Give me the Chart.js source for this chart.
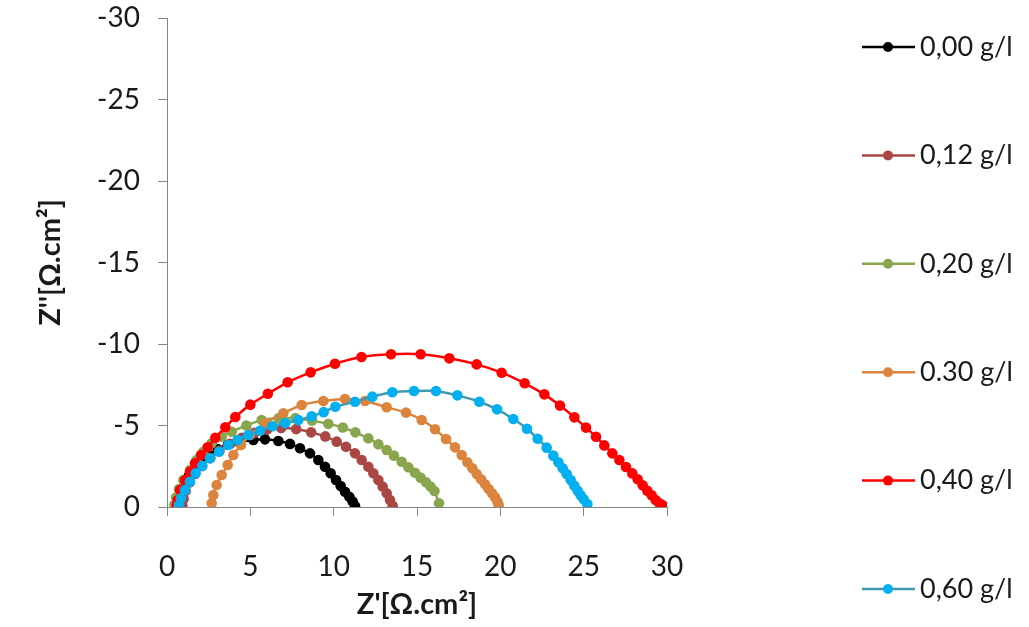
<!DOCTYPE html>
<html>
<head>
<meta charset="utf-8">
<script src="https://cdn.jsdelivr.net/npm/chart.js@4.4.1/dist/chart.umd.min.js"></script>
<style>
  body { margin: 0; background: #fff; }
  #wrap { width: 1029px; height: 627px; }
</style>
</head>
<body>
<div id="wrap"><canvas id="chart" width="1029" height="627"></canvas></div>
<script>
// Series labels
const seriesLabels = ["0,00 g/l", "0,12 g/l", "0,20 g/l", "0.30 g/l", "0,40 g/l", "0,60 g/l"];

// Z' (real part) and Z'' (imaginary part) for each concentration
const zRe000 = [0.75, 0.8, 0.9, 1.05, 1.3, 1.6, 2.0, 2.5, 3.05, 3.65, 4.3, 5.18, 5.88, 6.68, 7.38, 7.98, 8.58, 9.08, 9.48, 9.82, 10.14, 10.42, 10.68, 10.94, 11.14, 11.28];
const zIm000 = [-0.1, -0.45, -0.9, -1.4, -1.9, -2.35, -2.8, -3.2, -3.55, -3.82, -4.0, -4.11, -4.15, -4.05, -3.87, -3.6, -3.29, -2.88, -2.47, -2.07, -1.66, -1.29, -0.94, -0.63, -0.33, -0.06];

const zRe012 = [0.92, 1.0, 1.12, 1.35, 1.68, 2.1, 2.6, 3.15, 3.8, 4.5, 5.25, 6.0, 6.85, 7.75, 8.65, 9.5, 10.18, 10.74, 11.28, 11.68, 12.08, 12.38, 12.68, 12.94, 13.18, 13.38, 13.54];
const zIm012 = [-0.1, -0.5, -1.0, -1.5, -2.02, -2.52, -3.0, -3.45, -3.88, -4.25, -4.55, -4.75, -4.85, -4.78, -4.58, -4.33, -4.01, -3.7, -3.29, -2.88, -2.47, -2.07, -1.66, -1.25, -0.84, -0.43, -0.08];

const zRe020 = [0.45, 0.55, 0.72, 0.98, 1.38, 1.78, 2.18, 2.68, 3.28, 3.88, 4.76, 5.68, 6.7, 7.7, 8.7, 9.68, 10.55, 11.3, 12.08, 12.68, 13.18, 13.62, 14.08, 14.48, 14.88, 15.22, 15.54, 15.82, 16.05, 16.32];
const zIm020 = [-0.15, -0.6, -1.1, -1.66, -2.27, -2.88, -3.39, -3.91, -4.31, -4.62, -5.0, -5.34, -5.45, -5.45, -5.3, -5.1, -4.88, -4.58, -4.21, -3.85, -3.5, -3.15, -2.78, -2.44, -2.1, -1.8, -1.52, -1.25, -0.98, -0.23];

const zRe030 = [2.68, 2.78, 2.98, 3.28, 3.64, 3.98, 4.44, 4.98, 5.9, 6.98, 8.08, 9.38, 10.68, 11.88, 13.18, 14.34, 15.28, 16.08, 16.74, 17.28, 17.68, 18.02, 18.32, 18.58, 18.84, 19.08, 19.3, 19.5, 19.68, 19.82, 19.9];
const zIm030 = [-0.23, -0.74, -1.35, -1.96, -2.58, -3.19, -3.8, -4.42, -5.15, -5.75, -6.26, -6.5, -6.63, -6.5, -6.12, -5.79, -5.34, -4.77, -4.17, -3.66, -3.19, -2.74, -2.37, -2.02, -1.7, -1.39, -1.1, -0.84, -0.6, -0.33, -0.12];

const zRe040 = [0.58, 0.64, 0.78, 1.08, 1.38, 1.68, 2.04, 2.44, 2.9, 3.5, 4.1, 5.0, 6.05, 7.24, 8.62, 10.08, 11.67, 13.44, 15.22, 16.94, 18.58, 20.08, 21.46, 22.64, 23.58, 24.44, 25.14, 25.74, 26.24, 26.72, 27.14, 27.54, 27.92, 28.24, 28.54, 28.82, 29.08, 29.32, 29.54, 29.72];
const zIm040 = [-0.12, -0.43, -1.04, -1.66, -2.17, -2.68, -3.19, -3.66, -4.25, -4.89, -5.52, -6.28, -6.95, -7.65, -8.26, -8.79, -9.2, -9.37, -9.37, -9.12, -8.75, -8.24, -7.59, -6.91, -6.22, -5.5, -4.87, -4.31, -3.78, -3.29, -2.88, -2.45, -2.06, -1.7, -1.33, -1.0, -0.72, -0.43, -0.23, -0.12];

const zRe060 = [0.72, 0.84, 1.08, 1.38, 1.72, 2.12, 2.58, 3.12, 3.68, 4.24, 4.88, 5.58, 6.33, 7.1, 7.88, 8.68, 9.4, 10.1, 11.28, 12.32, 13.52, 14.82, 16.14, 17.42, 18.74, 19.8, 20.78, 21.6, 22.24, 22.78, 23.18, 23.48, 23.74, 23.98, 24.22, 24.44, 24.64, 24.82, 25.0, 25.22];
const zIm060 = [-0.12, -0.53, -1.04, -1.55, -2.07, -2.52, -2.99, -3.39, -3.8, -4.11, -4.42, -4.68, -4.95, -5.15, -5.34, -5.56, -5.82, -6.15, -6.46, -6.77, -7.04, -7.12, -7.12, -6.85, -6.46, -5.99, -5.4, -4.8, -4.19, -3.64, -3.15, -2.74, -2.37, -2.02, -1.66, -1.31, -1.0, -0.72, -0.47, -0.18];

const lineColors = ["#000000", "#AA4643", "#89A54E", "#DB843D", "#FF0000", "#4198AF"];
const markerColors = ["#000000", "#AA4643", "#89A54E", "#DB843D", "#FF0000", "#00B0F0"];

const allRe = [zRe000, zRe012, zRe020, zRe030, zRe040, zRe060];
const allIm = [zIm000, zIm012, zIm020, zIm030, zIm040, zIm060];

Chart.defaults.font.family = "Lato, 'Open Sans', sans-serif";
Chart.defaults.color = "#1a1a1a";

// Legend drawn on the right, one entry per series, widely spaced
const sideLegend = {
    id: "sideLegend",
    afterDraw(chart) {
        const ctx = chart.ctx;
        chart.data.datasets.forEach((ds, i) => {
            const y = 47 + i * 108.4;
            ctx.save();
            ctx.strokeStyle = ds.borderColor;
            ctx.lineWidth = 2.5;
            ctx.beginPath();
            ctx.moveTo(862, y);
            ctx.lineTo(915, y);
            ctx.stroke();
            ctx.fillStyle = ds.pointBackgroundColor;
            ctx.beginPath();
            ctx.arc(888, y, 5, 0, Math.PI * 2);
            ctx.fill();
            ctx.fillStyle = "#1a1a1a";
            ctx.font = "27px Lato, 'Open Sans', sans-serif";
            ctx.textBaseline = "middle";
            ctx.fillText(ds.label, 920, y);
            ctx.restore();
        });
    },
};

const datasets = seriesLabels.map((label, i) => ({
    label: label,
    data: allRe[i].map((x, k) => ({ x: x, y: allIm[i][k] })),
    borderColor: lineColors[i],
    backgroundColor: markerColors[i],
    pointBackgroundColor: markerColors[i],
    pointBorderColor: markerColors[i],
    pointRadius: 5.3,
    pointBorderWidth: 0,
    borderWidth: 2.5,
    tension: 0.2,
    showLine: true,
    fill: false,
    order: seriesLabels.length - i,
}));

const axisGray = "#868686";

new Chart(document.getElementById("chart"), {
    type: "scatter",
    data: { datasets: datasets },
    plugins: [sideLegend],
    options: {
        responsive: false,
        animation: false,
        events: [],
        layout: { padding: { top: 1, right: 362, left: 0, bottom: 0 } },
        plugins: {
            legend: { display: false },
            tooltip: { enabled: false },
        },
        scales: {
            x: {
                type: "linear",
                min: 0,
                max: 30,
                afterFit: (s) => { s.height = 120; },
                ticks: { stepSize: 5, font: { size: 28 }, padding: 34 },
                grid: { drawOnChartArea: false, drawTicks: true, tickLength: 9, color: axisGray },
                border: { color: axisGray, width: 1 },
                title: {
                    display: true,
                    text: "Z'[Ω.cm²]",
                    font: { size: 29, weight: "bold" },
                    padding: { top: 0, bottom: 5 },
                },
            },
            y: {
                type: "linear",
                min: -30,
                max: 0,
                reverse: true,
                afterFit: (s) => {
                    s.width = 167;
                    s.paddingTop = 18;
                },
                ticks: { stepSize: 5, font: { size: 28 }, padding: 18 },
                grid: { drawOnChartArea: false, drawTicks: true, tickLength: 9, color: axisGray },
                border: { color: axisGray, width: 1 },
                title: {
                    display: true,
                    text: "Z''[Ω.cm²]",
                    font: { size: 29, weight: "bold" },
                    padding: { top: 33, bottom: 0 },
                },
            },
        },
    },
});
</script>
</body>
</html>
